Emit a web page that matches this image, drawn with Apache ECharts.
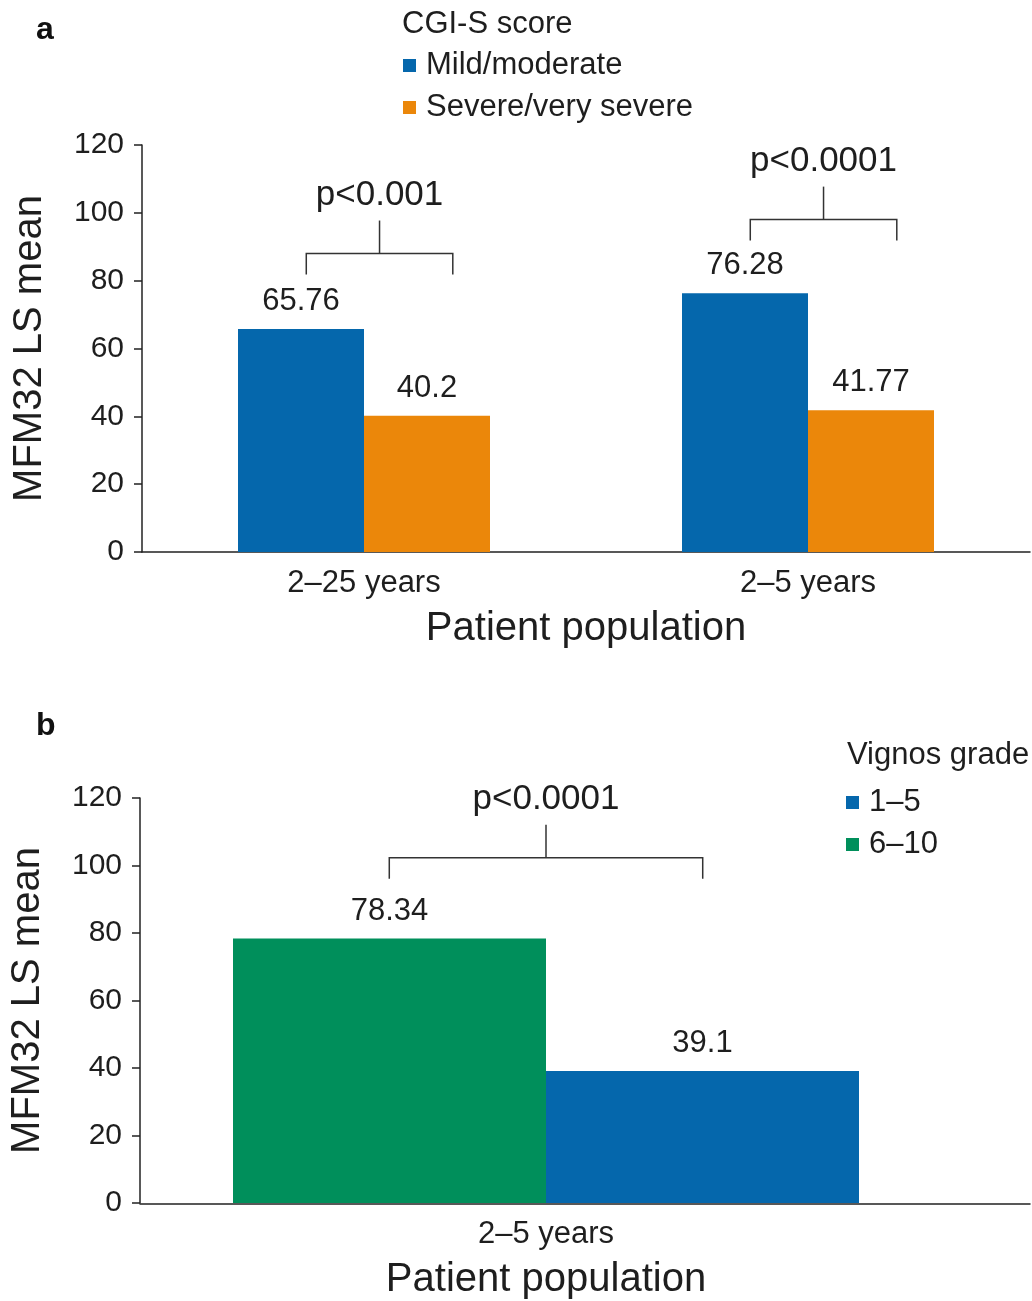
<!DOCTYPE html>
<html>
<head>
<meta charset="utf-8">
<script src="https://cdn.jsdelivr.net/npm/echarts@6/dist/echarts.min.js"></script>
<style>
  html, body { margin: 0; padding: 0; background: #fff; }
  #chart { width: 1032px; height: 1301px; }
</style>
</head>
<body>
<div id="chart"></div>
<script>
// panel a: CGI-S score
const catsA = ['2–25 years', '2–5 years']
const mildA = [65.76, 76.28]
const severeA = [40.2, 41.77]
const pTextA = ['p<0.001', 'p<0.0001']
const bracketA = [88, 98]

// panel b: Vignos grade
const catsB = ['2–5 years']
const grade610 = [78.34]
const grade15 = [39.1]
const pTextB = ['p<0.0001']
const bracketB = [102.3]

const FONT = '"Liberation Sans", Arial, sans-serif'
const INK = '#1e1e1e'
const BLUE = '#0567AC'
const ORANGE = '#EB870A'
const GREEN = '#008F5B'

// bracket with p value, drawn at category index / value level
function bracket(leftFrac, rightFrac, labels) {
  return function(params, api) {
    const c = api.coord([api.value(0), api.value(1)])
    const band = api.size([1, 0])[0]
    const x1 = c[0] + band * leftFrac
    const x2 = c[0] + band * rightFrac
    const xm = (x1 + x2) / 2
    return {
      type: 'group',
      children: [
        {
          type: 'polyline',
          shape: { points: [[x1, c[1] + 21], [x1, c[1]], [x2, c[1]], [x2, c[1] + 21]] },
          style: { stroke: '#333', lineWidth: 1.5, fill: null }
        },
        {
          type: 'line',
          shape: { x1: xm, y1: c[1], x2: xm, y2: c[1] - 33 },
          style: { stroke: '#333', lineWidth: 1.5 }
        },
        {
          type: 'text',
          x: xm,
          y: c[1] - 58,
          style: {
            text: labels[params.dataIndex],
            font: '35px ' + FONT,
            fill: INK,
            align: 'center',
            verticalAlign: 'middle'
          }
        }
      ]
    }
  }
}

function yAxisFor(gridIndex) {
  return {
    gridIndex: gridIndex,
    type: 'value',
    min: 0,
    max: 120,
    interval: 20,
    name: 'MFM32 LS mean',
    nameLocation: 'middle',
    nameGap: 92,
    nameTextStyle: { fontSize: 40, color: INK, fontFamily: FONT },
    axisLine: { show: true, lineStyle: { color: '#222', width: 1.5 } },
    axisTick: { show: true, length: 8, lineStyle: { color: '#222', width: 1.5 } },
    axisLabel: { fontSize: 30, color: INK, fontFamily: FONT, margin: 18 },
    splitLine: { show: false }
  }
}

function xAxisFor(gridIndex, cats, showLine) {
  return {
    gridIndex: gridIndex,
    type: 'category',
    data: cats,
    name: 'Patient population',
    nameLocation: 'middle',
    nameGap: 57,
    nameTextStyle: { fontSize: 40, color: INK, fontFamily: FONT },
    axisLine: { show: showLine, lineStyle: { color: '#222', width: 1.5 } },
    axisTick: { show: false },
    axisLabel: { fontSize: 31, color: INK, fontFamily: FONT, margin: 16 }
  }
}

const barLabel = {
  show: true,
  position: 'top',
  distance: 12,
  fontSize: 31,
  color: INK,
  fontFamily: FONT
}

const legendText = { fontSize: 31, color: INK, fontFamily: FONT, padding: [0, 0, 0, 5] }

const option = {
  animation: false,
  backgroundColor: '#fff',
  title: [
    { text: 'a', left: 31, top: 9, textStyle: { fontSize: 32, fontWeight: 'bold', color: '#111', fontFamily: FONT } },
    { text: 'b', left: 31, top: 705, textStyle: { fontSize: 32, fontWeight: 'bold', color: '#111', fontFamily: FONT } },
    { text: 'CGI-S score', left: 397, top: 4, textStyle: { fontSize: 31, fontWeight: 'normal', color: INK, fontFamily: FONT } },
    { text: 'Vignos grade', left: 842, top: 735, textStyle: { fontSize: 31, fontWeight: 'normal', color: INK, fontFamily: FONT } }
  ],
  legend: [
    {
      data: ['Mild/moderate', 'Severe/very severe'],
      orient: 'vertical',
      left: 398,
      top: 45,
      icon: 'rect',
      itemWidth: 13,
      itemHeight: 13,
      itemGap: 11,
      textStyle: legendText
    },
    {
      data: ['1–5', '6–10'],
      orient: 'vertical',
      left: 841,
      top: 782,
      icon: 'rect',
      itemWidth: 13,
      itemHeight: 13,
      itemGap: 11,
      textStyle: legendText
    }
  ],
  grid: [
    { left: 142, right: 2, top: 145, height: 407 },
    { left: 140, width: 812, top: 798, height: 406 },
    { left: 140, right: 2, top: 798, height: 406 }
  ],
  xAxis: [
    xAxisFor(0, catsA, true),
    xAxisFor(1, catsB, false),
    {
      // long baseline of panel b, wider than the bar area
      gridIndex: 2,
      type: 'value',
      min: 0,
      max: 1,
      axisLine: { show: true, onZero: false, lineStyle: { color: '#222', width: 1.5 } },
      axisTick: { show: false },
      axisLabel: { show: false },
      splitLine: { show: false }
    }
  ],
  yAxis: [
    yAxisFor(0),
    yAxisFor(1),
    { gridIndex: 2, type: 'value', min: 0, max: 1, show: false }
  ],
  series: [
    {
      name: 'Mild/moderate',
      type: 'bar',
      xAxisIndex: 0,
      yAxisIndex: 0,
      data: mildA,
      barWidth: 126,
      barGap: '0%',
      itemStyle: { color: BLUE },
      label: barLabel
    },
    {
      name: 'Severe/very severe',
      type: 'bar',
      xAxisIndex: 0,
      yAxisIndex: 0,
      data: severeA,
      barWidth: 126,
      barGap: '0%',
      itemStyle: { color: ORANGE },
      label: barLabel
    },
    {
      name: '6–10',
      type: 'bar',
      xAxisIndex: 1,
      yAxisIndex: 1,
      data: grade610,
      barWidth: 313,
      barGap: '0%',
      itemStyle: { color: GREEN },
      label: barLabel
    },
    {
      name: '1–5',
      type: 'bar',
      xAxisIndex: 1,
      yAxisIndex: 1,
      data: grade15,
      barWidth: 313,
      barGap: '0%',
      itemStyle: { color: BLUE },
      label: barLabel
    },
    {
      type: 'custom',
      xAxisIndex: 0,
      yAxisIndex: 0,
      data: bracketA.map((v, i) => [i, v]),
      renderItem: bracket(-0.13, 0.2, pTextA),
      silent: true,
      z: 5
    },
    {
      type: 'custom',
      xAxisIndex: 1,
      yAxisIndex: 1,
      data: bracketB.map((v, i) => [i, v]),
      renderItem: bracket(-0.193, 0.193, pTextB),
      silent: true,
      z: 5
    },
    {
      type: 'line',
      xAxisIndex: 2,
      yAxisIndex: 2,
      data: [],
      silent: true
    }
  ]
}

const myChart = echarts.init(document.getElementById('chart'))
myChart.setOption(option)
</script>
</body>
</html>
